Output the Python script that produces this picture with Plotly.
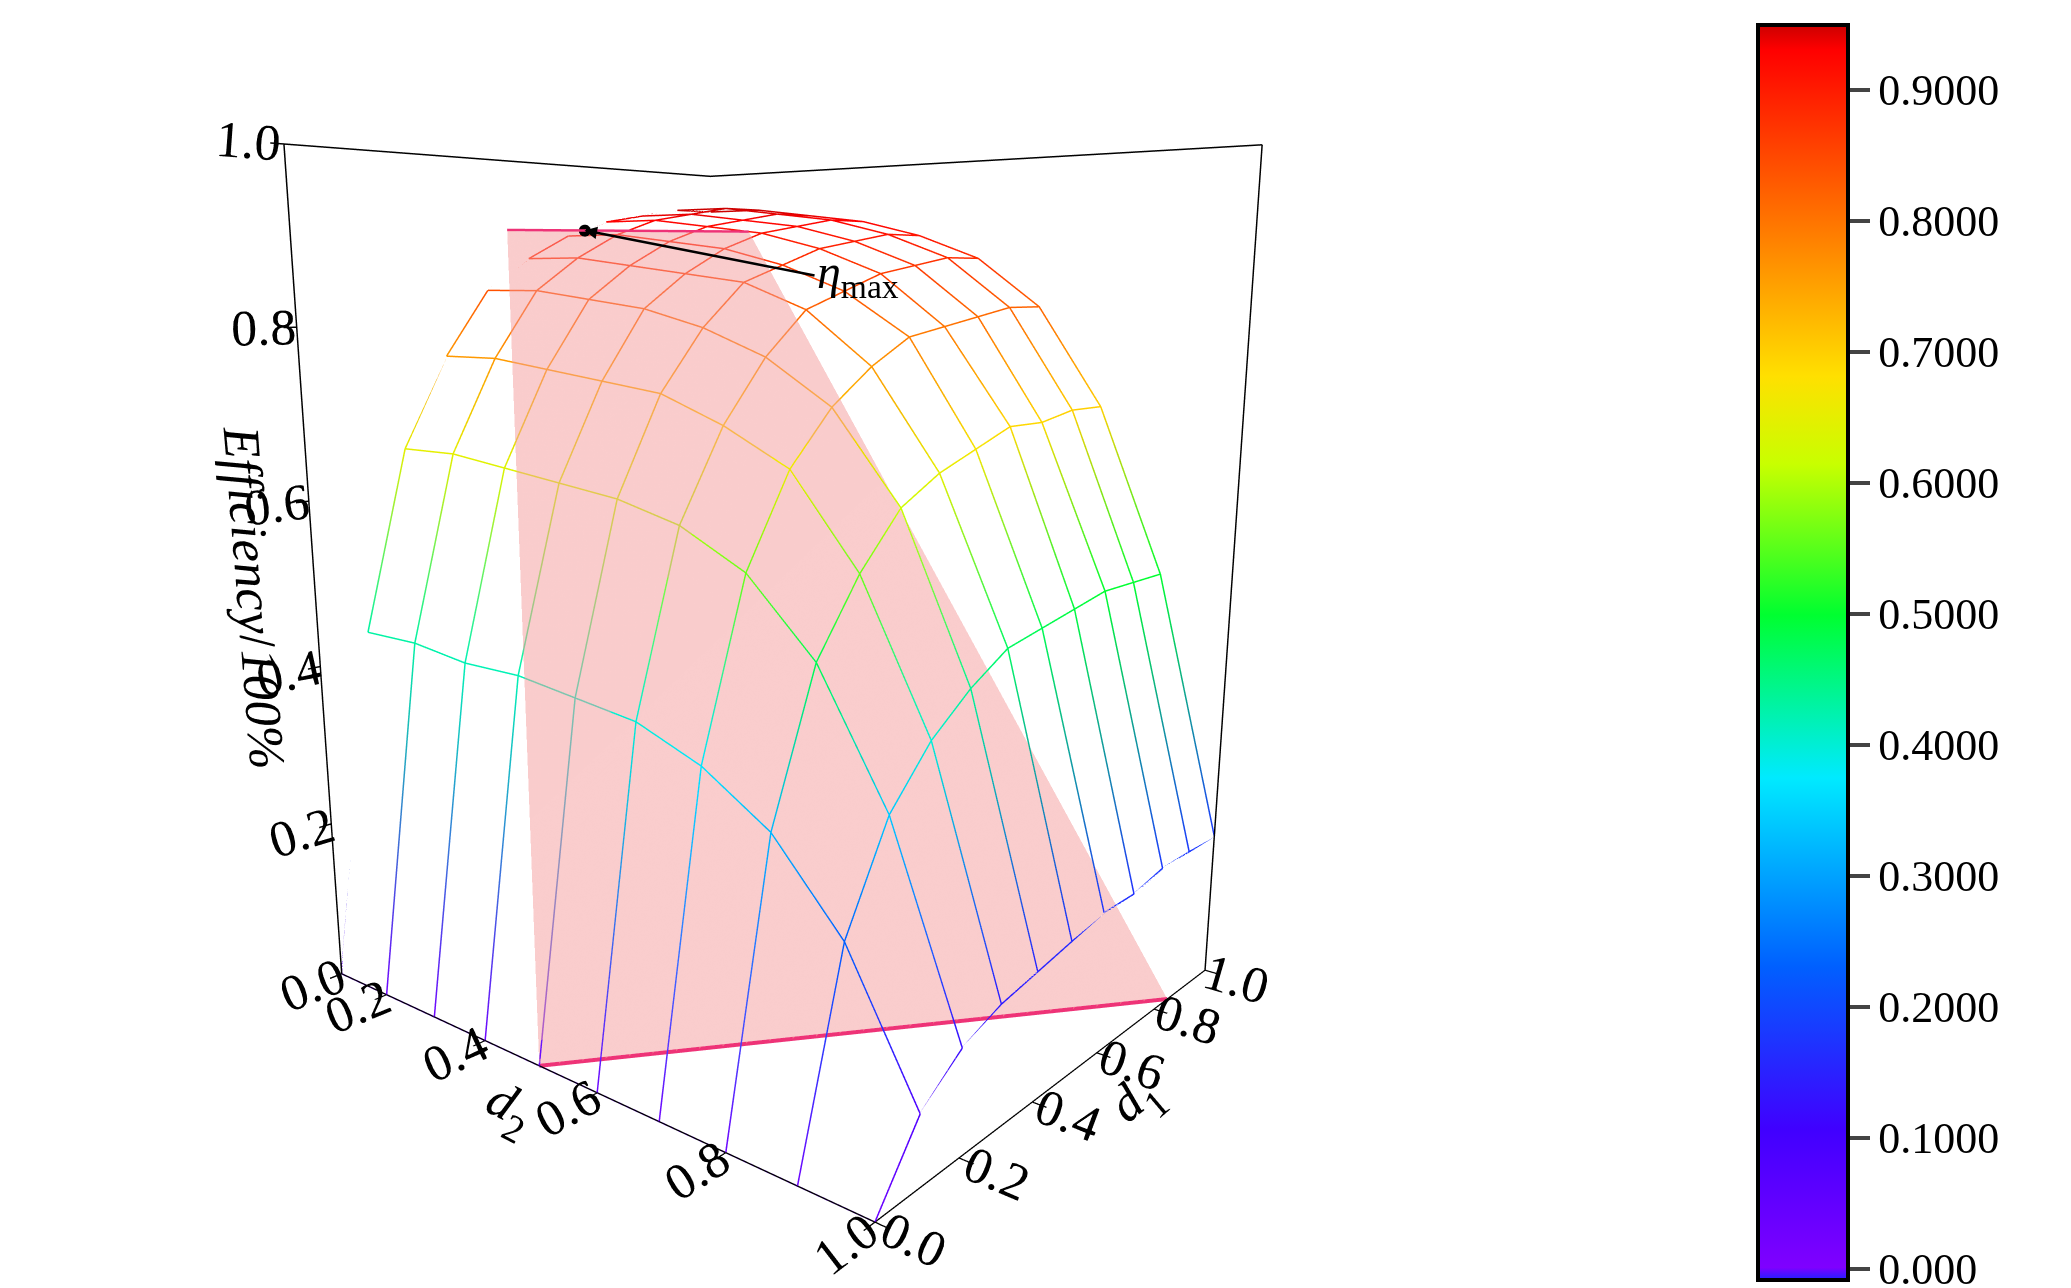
import plotly.graph_objects as go

# grid
d1 = [0.0, 0.1, 0.2, 0.3, 0.4, 0.5, 0.6, 0.7, 0.8, 0.9, 1.0]
d2 = [0.1, 0.2, 0.3, 0.4, 0.5, 0.6, 0.7, 0.8, 0.9, 1.0]
eff = [  # rows follow d2, columns follow d1
    [0, .43, .65, .76, .84, .88, .91, .93, .94, .95, .95],
    [0, .43, .65, .76, .84, .88, .91, .93, .94, .95, .95],
    [0, .42, .64, .75, .83, .87, .90, .92, .93, .94, .94],
    [0, .42, .63, .74, .82, .86, .89, .91, .92, .93, .93],
    [0, .41, .62, .73, .80, .85, .87, .89, .90, .91, .91],
    [0, .40, .60, .70, .77, .82, .84, .86, .87, .88, .88],
    [0, .37, .56, .66, .72, .76, .79, .80, .81, .82, .82],
    [0, .32, .48, .56, .62, .65, .67, .69, .69, .70, .70],
    [0, .23, .34, .40, .44, .47, .48, .49, .50, .50, .50],
    [0, .08, .12, .14, .15, .16, .17, .17, .18, .18, .18],
]
# pink cutting plane corners (d2, d1, eff)
plane_d2 = [0.5, 1.0, 0.66, 0.5]
plane_d1 = [0.0, 0.85, 0.27, 0.0]
plane_z = [0.0, 0.0, 0.9, 0.9]
eta_pt = (0.55, 0.085, 0.9)

colorscale = [[0, '#2020ff'], [0.01, '#7f00ff'], [0.12, '#4000ff'], [0.25, '#0060ff'],
              [0.4, '#00eaff'], [0.53, '#00ff30'], [0.65, '#c8ff00'], [0.72, '#ffe000'],
              [0.83, '#ff8000'], [0.98, '#ff0000'], [1, '#cc0000']]

fig = go.Figure()
first = True
# lines of constant d2
for i, v in enumerate(d2):
    fig.add_trace(go.Scatter3d(
        x=[v] * len(d1), y=d1, z=eff[i], mode='lines', showlegend=False,
        line=dict(width=3, color=eff[i], colorscale=colorscale, cmin=-0.008, cmax=0.95,
                  showscale=first,
                  colorbar=dict(x=0.84, xanchor='left', y=0.5, len=0.99, thickness=90,
                                outlinewidth=4, outlinecolor='black', ticks='outside',
                                ticklen=20, tickwidth=4,
                                tickvals=[0, .1, .2, .3, .4, .5, .6, .7, .8, .9],
                                ticktext=['0.000', '0.1000', '0.2000', '0.3000', '0.4000',
                                          '0.5000', '0.6000', '0.7000', '0.8000', '0.9000'],
                                tickfont=dict(size=44, family='Liberation Serif')))))
    first = False
# lines of constant d1
for j, v in enumerate(d1):
    col = [row[j] for row in eff]
    fig.add_trace(go.Scatter3d(
        x=d2, y=[v] * len(d2), z=col, mode='lines', showlegend=False,
        line=dict(width=3, color=col, colorscale=colorscale, cmin=-0.008, cmax=0.95)))

fig.add_trace(go.Mesh3d(x=plane_d2, y=plane_d1, z=plane_z, i=[0, 0], j=[1, 2], k=[2, 3],
                        color='#f59a9a', opacity=0.5, flatshading=True, hoverinfo='skip',
                        lighting=dict(ambient=1, diffuse=0, specular=0)))
fig.add_trace(go.Scatter3d(x=plane_d2[:2], y=plane_d1[:2], z=plane_z[:2], mode='lines',
                           line=dict(color='#ee3377', width=8), showlegend=False))
fig.add_trace(go.Scatter3d(x=plane_d2[2:], y=plane_d1[2:], z=plane_z[2:], mode='lines',
                           line=dict(color='#ee3377', width=5), showlegend=False))
fig.add_trace(go.Scatter3d(x=[eta_pt[0]], y=[eta_pt[1]], z=[eta_pt[2]], mode='markers',
                           marker=dict(size=7, color='black'), showlegend=False))

tfont = dict(family='Liberation Serif', size=25, color='black')
ax = dict(showbackground=False, showgrid=False, zeroline=False, showline=True, linecolor='black',
          linewidth=3, mirror=True, ticks='outside', tickcolor='black', ticklen=12, tickwidth=3,
          tickfont=tfont, tickformat='.1f', showspikes=False)
tt = dict(family='Liberation Serif', size=52, color='black')
fig.update_layout(
    width=2071, height=1288, paper_bgcolor='white', margin=dict(l=0, r=0, t=0, b=0),
    font=dict(family='Liberation Serif', color='black'),
    scene=dict(
        domain=dict(x=[0, 0.74], y=[0, 1]),
        xaxis=dict(ax, range=[0.1, 1.0], tickvals=[0.2, 0.4, 0.6, 0.8, 1.0],
                   title=dict(text='<i>d</i><sub>2</sub>', font=tt)),
        yaxis=dict(ax, range=[0, 1], tickvals=[0, 0.2, 0.4, 0.6, 0.8, 1.0],
                   title=dict(text='<i>d</i><sub>1</sub>', font=tt)),
        zaxis=dict(ax, range=[0, 1], tickvals=[0, 0.2, 0.4, 0.6, 0.8, 1.0],
                   title=dict(text='<i>Efficiency</i>/<i>100%</i>', font=tt)),
        aspectmode='manual', aspectratio=dict(x=1, y=0.85, z=1.2),
        camera=dict(eye=dict(x=1.4, y=-1.68, z=0.42), center=dict(x=0, y=0, z=-0.1),
                    projection=dict(type='perspective')),
        annotations=[dict(x=eta_pt[0], y=eta_pt[1], z=eta_pt[2], text='<i>η</i><sub>max</sub>',
                          showarrow=True, arrowhead=2, arrowwidth=2.5, arrowcolor='black',
                          ax=230, ay=45, xanchor='left', font=dict(size=48))],
    ),
)
fig.write_html('out.html')
